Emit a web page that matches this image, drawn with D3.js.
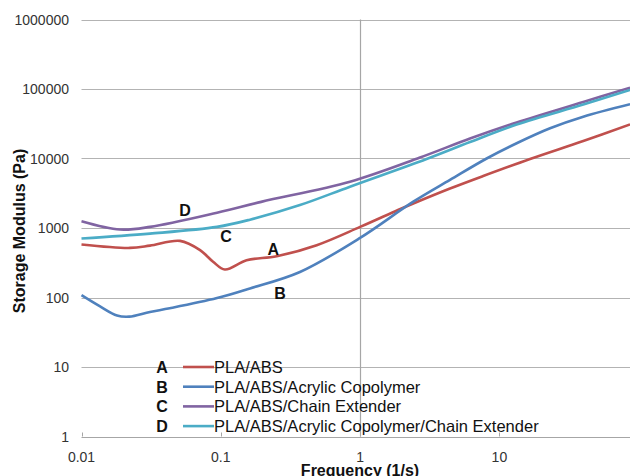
<!DOCTYPE html>
<html>
<head>
<meta charset="utf-8">
<script src="https://cdn.jsdelivr.net/npm/d3@7"></script>
<style>
  body { margin: 0; background: #fff; }
  svg { display: block; font-family: "Liberation Sans", Arial, sans-serif; }
</style>
</head>
<body>
<div id="chart"></div>
<script>
var width = 630, height = 476;

// series data: [frequency (1/s), storage modulus (Pa)]
var seriesA = [[0.01,580],[0.0223,517],[0.031,558],[0.051,652],[0.071,480],[0.088,327],[0.107,253],[0.153,344],[0.252,393],[0.488,566],[1,1037],[1.87,1815],[2.41,2254],[4.42,3700],[7.65,5600],[16.6,9840],[40,17860],[86.7,31000]];
var seriesB = [[0.01,108],[0.0135,75],[0.018,55],[0.022,53],[0.031,62],[0.043,70],[0.094,98],[0.162,135],[0.37,233],[1,720],[2.41,2390],[4.42,4920],[8.1,10000],[13.3,16550],[23.1,27200],[40,39900],[86.7,60300]];
var seriesC = [[0.01,1253],[0.0189,950],[0.031,1037],[0.094,1660],[0.195,2377],[0.846,4640],[2.69,10330],[6.15,19400],[13.3,33000],[40,65000],[86.7,104500]];
var seriesD = [[0.01,706],[0.031,830],[0.094,1037],[0.162,1318],[0.37,2138],[0.846,3930],[3.0,9840],[6.15,17260],[13.3,30840],[40,59800],[86.7,96800]];

var seriesNames = ["PLA/ABS", "PLA/ABS/Acrylic Copolymer", "PLA/ABS/Chain Extender", "PLA/ABS/Acrylic Copolymer/Chain Extender"];
var seriesLetters = ["A", "B", "C", "D"];
var colors = ["#c0504d", "#4f81bd", "#8064a2", "#4bacc6"];
var allSeries = [seriesA, seriesB, seriesC, seriesD];

var xTicks = [0.01, 0.1, 1, 10];
var yTicks = [1, 10, 100, 1000, 10000, 100000, 1000000];

// curve labels placed on the plot: [letter, frequency, modulus]
var curveLabels = [["D", 0.0553, 1503], ["C", 0.109, 621], ["A", 0.238, 409], ["B", 0.266, 95]];

var x = d3.scaleLog().domain([0.01, 100]).range([81.5, 638.7]);
var y = d3.scaleLog().domain([1, 1000000]).range([436.5, 19.5]);

var svg = d3.select("#chart").append("svg")
    .attr("width", width).attr("height", height);

// horizontal gridlines
svg.append("g").selectAll("line")
    .data(yTicks)
    .enter().append("line")
    .attr("x1", x(0.01)).attr("x2", width)
    .attr("y1", function(d){ return Math.round(y(d)) + 0.5; })
    .attr("y2", function(d){ return Math.round(y(d)) + 0.5; })
    .attr("stroke", function(d){ return d === 1 ? "#a6a6a6" : "#b3b3b3"; })
    .attr("stroke-width", 1.2);

// vertical axis line crossing at 1
svg.append("line")
    .attr("x1", Math.round(x(1)) + 0.5).attr("x2", Math.round(x(1)) + 0.5)
    .attr("y1", y(1000000)).attr("y2", y(1))
    .attr("stroke", "#a6a6a6").attr("stroke-width", 1.2);

// small x ticks
svg.append("g").selectAll("line")
    .data(xTicks)
    .enter().append("line")
    .attr("x1", function(d){ return Math.round(x(d)) + 0.5; })
    .attr("x2", function(d){ return Math.round(x(d)) + 0.5; })
    .attr("y1", y(1) - 4).attr("y2", y(1))
    .attr("stroke", "#a6a6a6");

// y tick labels
svg.append("g").selectAll("text")
    .data(yTicks)
    .enter().append("text")
    .attr("x", 69)
    .attr("y", function(d){ return y(d) + 5; })
    .attr("text-anchor", "end")
    .attr("font-size", "14px")
    .attr("fill", "#333")
    .text(function(d){ return d; });

// x tick labels
svg.append("g").selectAll("text")
    .data(xTicks)
    .enter().append("text")
    .attr("x", function(d){ return x(d); })
    .attr("y", 462)
    .attr("text-anchor", "middle")
    .attr("font-size", "14px")
    .attr("fill", "#333")
    .text(function(d){ return d; });

// axis titles
svg.append("text")
    .attr("x", 360).attr("y", 476)
    .attr("text-anchor", "middle")
    .attr("font-size", "16px").attr("font-weight", "bold")
    .attr("fill", "#111")
    .text("Frequency (1/s)");

svg.append("text")
    .attr("transform", "translate(25,231) rotate(-90)")
    .attr("text-anchor", "middle")
    .attr("font-size", "16px").attr("font-weight", "bold")
    .attr("fill", "#111")
    .text("Storage Modulus (Pa)");

// lines
var line = d3.line()
    .x(function(d){ return x(d[0]); })
    .y(function(d){ return y(d[1]); })
    .curve(d3.curveCatmullRom.alpha(0.5));

svg.append("g").selectAll("path")
    .data(allSeries)
    .enter().append("path")
    .attr("d", line)
    .attr("fill", "none")
    .attr("stroke", function(d, i){ return colors[i]; })
    .attr("stroke-width", 2.6);

// curve letters
svg.append("g").selectAll("text")
    .data(curveLabels)
    .enter().append("text")
    .attr("x", function(d){ return x(d[1]); })
    .attr("y", function(d){ return y(d[2]); })
    .attr("text-anchor", "middle")
    .attr("font-size", "16px").attr("font-weight", "bold")
    .attr("fill", "#111")
    .text(function(d){ return d[0]; });

// legend
var legend = svg.append("g").selectAll("g")
    .data(seriesNames)
    .enter().append("g")
    .attr("transform", function(d, i){ return "translate(0," + (367 + i * 19.7) + ")"; });

legend.append("text")
    .attr("x", 162).attr("y", 6)
    .attr("text-anchor", "middle")
    .attr("font-size", "16px").attr("font-weight", "bold")
    .attr("fill", "#111")
    .text(function(d, i){ return seriesLetters[i]; });

legend.append("line")
    .attr("x1", 183).attr("x2", 214)
    .attr("y1", 0).attr("y2", 0)
    .attr("stroke", function(d, i){ return colors[i]; })
    .attr("stroke-width", 2.6);

legend.append("text")
    .attr("x", 214).attr("y", 6)
    .attr("font-size", "16.5px")
    .attr("fill", "#111")
    .text(function(d){ return d; });
</script>
</body>
</html>
